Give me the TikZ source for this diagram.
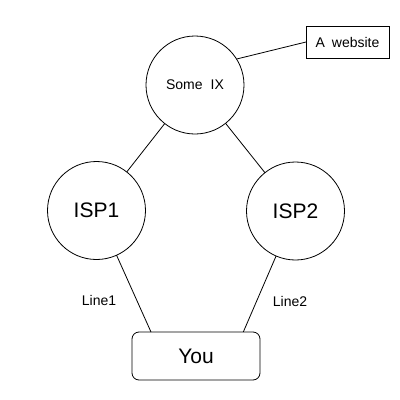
\documentclass[tikz,border=0pt]{standalone}
\usepackage{fontspec}
\setmainfont{Liberation Sans}
\begin{document}
\begin{tikzpicture}[x=1pt,y=-1pt,line width=0.8pt,
  hub/.style={draw,circle,minimum size=98pt,inner sep=0pt,outer sep=0pt},
  bigtxt/.style={font=\fontsize{21}{24}\selectfont},
  smalltxt/.style={font=\fontsize{14}{16}\selectfont},
  box/.style={draw,rectangle,inner sep=0pt,outer sep=0pt}]
\useasboundingbox (0,0) rectangle (400,400);
\node[hub,smalltxt] (ix) at (195,85) {Some\hspace{8pt}IX};
\node[hub,bigtxt] (isp1) at (96.5,210.5) {ISP1};
\node[hub,bigtxt] (isp2) at (295.5,211) {ISP2};
\node[box,rounded corners=7pt,minimum width=128pt,minimum height=48pt,bigtxt] (you) at (196,356) {You};
\node[box,minimum width=83pt,minimum height=32pt,smalltxt] (web) at (347.5,42) {A\hspace{7pt}website};
\node[smalltxt] (l1) at (99,300) {Line1};
\node[smalltxt] (l2) at (290,301) {Line2};
\coordinate (y1) at (151,332);
\coordinate (y2) at (243.3,332);
\draw (ix) -- (isp1);
\draw (ix) -- (isp2);
\draw (ix.32) -- (web.west);
\draw (isp1) -- (y1);
\draw (isp2) -- (y2);
\end{tikzpicture}
\end{document}
